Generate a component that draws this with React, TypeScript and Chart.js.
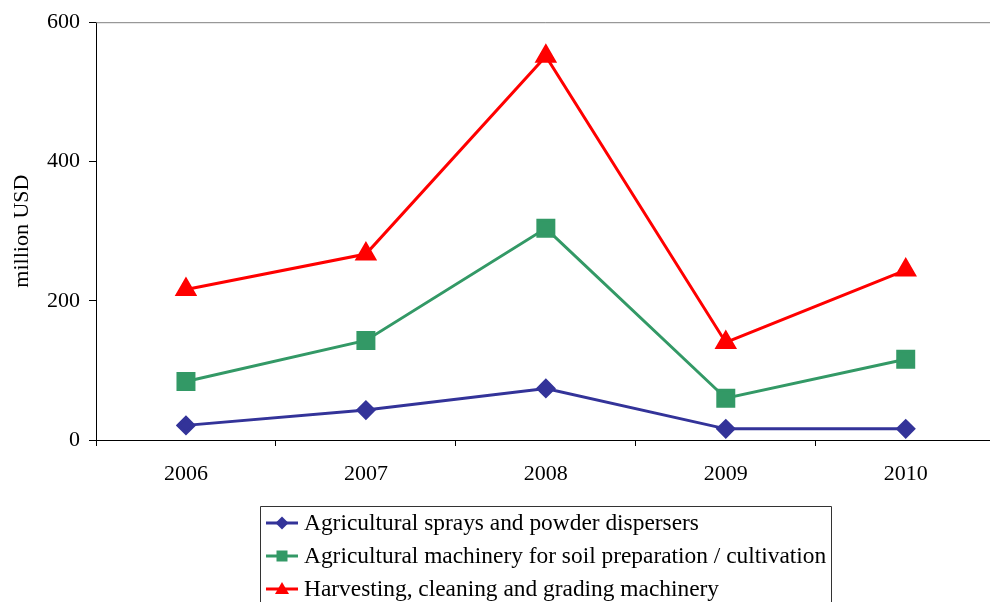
import React, { useEffect, useRef } from "react";
import { Chart, registerables } from "chart.js";

Chart.register(...registerables);

const categories = ["2006", "2007", "2008", "2009", "2010"];
const sprays = [21, 43, 74, 16, 16];
const soil = [84, 143, 304, 60, 116];
const harvesting = [216, 267, 551, 140, 244];
const yTicks = [0, 200, 400, 600];
const seriesNames = [
  "Agricultural sprays and powder dispersers",
  "Agricultural machinery for soil preparation / cultivation",
  "Harvesting, cleaning and grading machinery",
];

const FONT = "'Liberation Serif', 'Times New Roman', serif";

const decorPlugin = {
  id: "decor",
  afterDraw(chart: any) {
    const ctx = chart.ctx;
    const { left, right, top } = chart.chartArea;
    ctx.save();
    // plot area top border
    ctx.strokeStyle = "#808080";
    ctx.lineWidth = 1;
    ctx.beginPath();
    ctx.moveTo(left, top + 0.5);
    ctx.lineTo(right, top + 0.5);
    ctx.stroke();

    // legend box
    const bx = 260.5, by = 506.5, bw = 571, bh = 120;
    ctx.strokeStyle = "#333333";
    ctx.beginPath();
    ctx.rect(bx, by, bw, bh);
    ctx.stroke();
    const rowY = [523, 556, 589];
    chart.data.datasets.forEach((ds: any, i: number) => {
      const y = rowY[i];
      ctx.strokeStyle = ds.borderColor;
      ctx.lineWidth = 3;
      ctx.beginPath();
      ctx.moveTo(266, y);
      ctx.lineTo(298, y);
      ctx.stroke();
      ctx.fillStyle = ds.backgroundColor;
      const x = 282;
      ctx.beginPath();
      if (ds.pointStyle === "rectRot") {
        const r = 6.5;
        ctx.moveTo(x, y - r);
        ctx.lineTo(x + r, y);
        ctx.lineTo(x, y + r);
        ctx.lineTo(x - r, y);
      } else if (ds.pointStyle === "rect") {
        ctx.rect(x - 5.5, y - 5.5, 11, 11);
      } else {
        ctx.moveTo(x, y - 7);
        ctx.lineTo(x + 7, y + 5);
        ctx.lineTo(x - 7, y + 5);
      }
      ctx.closePath();
      ctx.fill();
      ctx.fillStyle = "#000000";
      ctx.font = `23.4px ${FONT}`;
      ctx.textBaseline = "middle";
      ctx.textAlign = "left";
      ctx.fillText(ds.label, 304, y + 1);
    });
    ctx.restore();
  },
};

export default function App() {
  const ref = useRef<HTMLCanvasElement>(null);
  useEffect(() => {
    if (!ref.current) return;
    const chart = new Chart(ref.current, {
      type: "line",
      data: {
        labels: categories,
        datasets: [
          {
            label: seriesNames[0],
            data: sprays,
            borderColor: "#333399",
            backgroundColor: "#333399",
            pointStyle: "rectRot",
            pointRadius: 8,
            borderWidth: 3,
            tension: 0,
          },
          {
            label: seriesNames[1],
            data: soil,
            borderColor: "#339966",
            backgroundColor: "#339966",
            pointStyle: "rect",
            pointRadius: 11.3,
            borderWidth: 3,
            tension: 0,
          },
          {
            label: seriesNames[2],
            data: harvesting,
            borderColor: "#ff0000",
            backgroundColor: "#ff0000",
            pointStyle: "triangle",
            pointRadius: 10,
            borderWidth: 3,
            tension: 0,
          },
        ] as any,
      },
      options: {
        animation: false,
        responsive: false,
        layout: { padding: { left: 0, top: 20, right: 10, bottom: 0 } },
        plugins: { legend: { display: false }, tooltip: { enabled: false } },
        elements: { point: { borderWidth: 0 } },
        scales: {
          x: {
            offset: true,
            grid: {
              offset: true,
              drawOnChartArea: false,
              drawTicks: true,
              tickLength: 6,
              color: "#000",
            },
            border: { color: "#000", width: 1 },
            ticks: {
              color: "#000",
              font: { family: FONT, size: 22 },
              padding: 15,
              maxRotation: 0,
            },
            afterFit: (s: any) => {
              s.height = 180;
            },
          },
          y: {
            min: 0,
            max: 600,
            afterBuildTicks: (s: any) => {
              s.ticks = yTicks.map((v) => ({ value: v }));
            },
            grid: {
              drawOnChartArea: false,
              drawTicks: true,
              tickLength: 7,
              color: "#000",
            },
            border: { color: "#000", width: 1 },
            ticks: {
              color: "#000",
              font: { family: FONT, size: 22 },
              padding: 9,
            },
            title: {
              display: true,
              text: "million USD",
              color: "#000",
              font: { family: FONT, size: 22 },
              padding: { top: 9, bottom: 0 },
            },
            afterFit: (s: any) => {
              s.width = 96;
            },
          },
        },
      },
      plugins: [decorPlugin],
    });
    return () => chart.destroy();
  }, []);
  return (
    <div
      style={{
        position: "fixed",
        left: 0,
        top: 0,
        width: 990,
        height: 602,
        overflow: "hidden",
        background: "#fff",
      }}
    >
      <canvas ref={ref} width={1010} height={620} style={{ display: "block" }} />
    </div>
  );
}
